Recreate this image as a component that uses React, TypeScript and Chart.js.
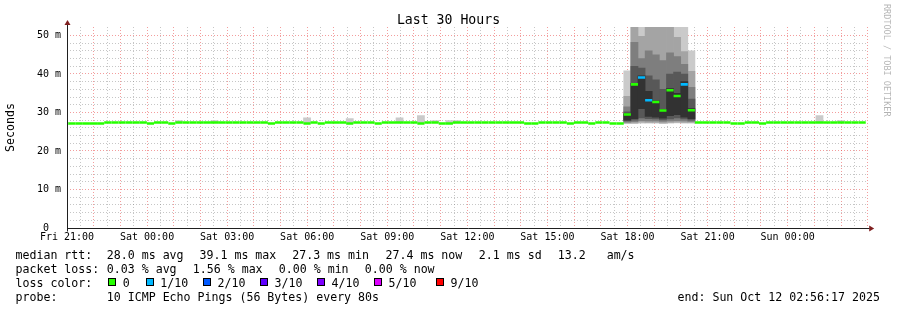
import React, { useEffect, useRef } from 'react';
import { Chart, registerables } from 'chart.js';

Chart.register(...registerables);

// ---------- data ----------
const COLUMN_HOURS = 16 / 60; // one consolidated column = 16 minutes
const FIRST_COLUMN_CENTER = -0.073; // hours after Fri 21:00

const xTickLabels = [
  'Fri 21:00', 'Sat 00:00', 'Sat 03:00', 'Sat 06:00', 'Sat 09:00',
  'Sat 12:00', 'Sat 15:00', 'Sat 18:00', 'Sat 21:00', 'Sun 00:00',
];

// median RTT (ms) per 16-minute column
const medianRtt = [
  27.15, 27.15, 27.15, 27.15, 27.15, 27.15, 27.4, 27.4, 27.4, 27.4,
  27.4, 27.4, 27.15, 27.4, 27.4, 27.15, 27.4, 27.4, 27.4, 27.4,
  27.4, 27.4, 27.4, 27.4, 27.4, 27.4, 27.4, 27.4, 27.4, 27.15,
  27.4, 27.4, 27.4, 27.4, 27.15, 27.4, 27.15, 27.4, 27.4, 27.4,
  27.15, 27.4, 27.4, 27.4, 27.15, 27.4, 27.4, 27.4, 27.4, 27.4,
  27.15, 27.4, 27.4, 27.15, 27.15, 27.4, 27.4, 27.4, 27.4, 27.4,
  27.4, 27.4, 27.4, 27.4, 27.4, 27.15, 27.15, 27.4, 27.4, 27.4,
  27.4, 27.15, 27.4, 27.4, 27.15, 27.4, 27.4, 27.15, 27.15, 29.5,
  37.3, 39.1, 33.2, 32.7, 30.5, 35.8, 34.3, 37.3, 30.6, 27.4,
  27.4, 27.4, 27.4, 27.4, 27.15, 27.15, 27.4, 27.4, 27.15, 27.4,
  27.4, 27.4, 27.4, 27.4, 27.4, 27.4, 27.4, 27.4, 27.4, 27.4,
  27.4, 27.4, 27.4,
];

// packet loss (tenths) for the columns that lost pings
const lossCols = [81, 82, 87];
const lossTenths = [1, 1, 1];

// smoke (ping spread) for the busy period, outer band first
const smokeCols = [79, 80, 81, 82, 83, 84, 85, 86, 87, 88];
const smokeBand1 = [[27.1, 40.8], [27.1, 52.2], [27.2, 52.2], [27.2, 52.2], [27.2, 52.2], [27.1, 52.2], [27.2, 52.2], [27.3, 52.2], [27.2, 52.2], [27.2, 46.0]];
const smokeBand2 = [[27.3, 34.2], [27.3, 52.2], [27.5, 49.8], [27.4, 52.2], [27.4, 52.2], [27.3, 52.2], [27.4, 52.2], [27.5, 49.5], [27.4, 45.8], [27.4, 40.7]];
const smokeBand3 = [[27.5, 31.5], [27.6, 48.2], [27.9, 44.0], [27.8, 46.0], [27.8, 45.0], [27.7, 43.5], [27.8, 45.5], [27.9, 44.5], [27.8, 42.5], [27.7, 36.5]];
const smokeBand4 = [[27.8, 30.2], [28.0, 42.0], [28.6, 41.5], [28.4, 39.5], [28.3, 38.5], [28.1, 36.0], [28.3, 40.0], [28.6, 40.5], [28.3, 40.0], [28.0, 33.5]];
const smokeBand5 = [[28.0, 29.6], [28.4, 37.6], [31.0, 39.5], [29.0, 35.5], [28.8, 33.0], [28.5, 30.8], [29.2, 36.2], [29.4, 35.0], [28.8, 38.0], [28.4, 31.0]];

// small smoke bumps above the median during the quiet periods
const bumpCols = [16, 21, 34, 40, 47, 50, 52, 54, 55, 106, 109];
const bumpTops = [27.9, 27.9, 28.6, 28.4, 28.6, 29.2, 27.9, 27.9, 27.9, 29.2, 27.9];

const lossLegendLabels = ['0', '1/10', '2/10', '3/10', '4/10', '5/10', '9/10'];
const lossLegendColors = ['#26ff00', '#00b8ff', '#0059ff', '#5e00ff', '#7e00ff', '#dd00ff', '#ff0000'];
const smokeColors = ['#cacaca', '#a4a4a4', '#7e7e7e', '#585858', '#323232'];

// ---------- styling ----------
const MONO = '"DejaVu Sans Mono", monospace';
const MAJOR = 'rgba(232,60,60,0.5)';
const MINOR = 'rgba(120,120,120,0.42)';

const colCenter = (k: number) => FIRST_COLUMN_CENTER + k * COLUMN_HOURS;
const lossColor = (t: number) => lossLegendColors[t <= 5 ? t : 6];

const legendRows: { baseline: number; items: [number, string][] }[] = [
  { baseline: 258.5, items: [[16, 'median rtt:'], [107.3, '28.0 ms avg'], [200, '39.1 ms max'], [292.7, '27.3 ms min'], [386, '27.4 ms now'], [479.3, '2.1 ms sd'], [558.3, '13.2   am/s']] },
  { baseline: 272.5, items: [[16, 'packet loss:'], [107.3, '0.03 % avg'], [193.3, '1.56 % max'], [279.3, '0.00 % min'], [365.3, '0.00 % now']] },
  { baseline: 286.5, items: [[16, 'loss color:']] },
  { baseline: 300.5, items: [[16, 'probe:'], [107.3, '10 ICMP Echo Pings (56 Bytes) every 80s'], [678, 'end: Sun Oct 12 02:56:17 2025']] },
];
const swatchLefts = [108.3, 145.7, 203, 260, 317, 374, 436];

const decorPlugin = {
  id: 'rrdDecor',
  afterDraw(chart: any) {
    const { ctx, chartArea } = chart;
    const { left, right, top, bottom } = chartArea;
    ctx.save();
    const ax = Math.round(left) + 0.5;
    const ay = Math.round(bottom) + 0.5;
    ctx.strokeStyle = '#1f1f1f';
    ctx.lineWidth = 1;
    ctx.beginPath();
    ctx.moveTo(ax, ay + 3);
    ctx.lineTo(ax, top - 3);
    ctx.moveTo(ax, ay);
    ctx.lineTo(right + 2, ay);
    ctx.stroke();
    ctx.fillStyle = '#7f1f1f';
    ctx.beginPath();
    ctx.moveTo(ax - 3, top - 2);
    ctx.lineTo(ax + 3, top - 2);
    ctx.lineTo(ax, top - 7);
    ctx.closePath();
    ctx.fill();
    ctx.beginPath();
    ctx.moveTo(right + 1.5, ay - 3);
    ctx.lineTo(right + 1.5, ay + 3);
    ctx.lineTo(right + 6.5, ay);
    ctx.closePath();
    ctx.fill();
    // title
    ctx.fillStyle = '#000';
    ctx.font = `13.2px ${MONO}`;
    ctx.textAlign = 'center';
    ctx.textBaseline = 'alphabetic';
    ctx.fillText('Last 30 Hours', chart.width / 2, 24);
    // watermark
    ctx.translate(884, 4);
    ctx.rotate(Math.PI / 2);
    ctx.fillStyle = 'rgba(0,0,0,0.3)';
    ctx.font = `8.5px ${MONO}`;
    ctx.textAlign = 'left';
    ctx.fillText('RRDTOOL / TOBI OETIKER', 0, 0);
    ctx.restore();
  },
};

export default function App() {
  const canvasRef = useRef<HTMLCanvasElement | null>(null);

  useEffect(() => {
    const canvas = canvasRef.current;
    if (!canvas) return;

    const lossByCol = medianRtt.map((_, k) => {
      const i = lossCols.indexOf(k);
      return i >= 0 ? lossTenths[i] : 0;
    });

    const bands = [smokeBand1, smokeBand2, smokeBand3, smokeBand4, smokeBand5];
    const smokeSets = bands.map((band, b) => ({
      label: `smoke${b + 1}`,
      data: band.map((r, i) => ({ x: colCenter(smokeCols[i]), y: [r[0], r[1]] })),
      backgroundColor: smokeColors[b],
      order: 5 - b,
    }));

    const datasets: any[] = [
      {
        label: 'median',
        data: medianRtt.map((m, k) => ({ x: colCenter(k), y: [m - 0.33, m + 0.33] })),
        backgroundColor: lossByCol.map((t) => lossColor(t)),
        inflateAmount: 0,
        order: 0,
      },
      ...smokeSets,
      {
        label: 'bumps',
        data: bumpCols.map((c, i) => ({ x: colCenter(c), y: [medianRtt[c], bumpTops[i]] })),
        backgroundColor: smokeColors[0],
        order: 6,
      },
    ];

    const chart = new Chart(canvas, {
      type: 'bar',
      data: { datasets },
      options: {
        animation: false,
        responsive: false,
        maintainAspectRatio: false,
        devicePixelRatio: 1,
        events: [],
        layout: { padding: { top: 27, right: 29.3, bottom: 0, left: 0 } },
        plugins: {
          legend: { display: false },
          tooltip: { enabled: false },
          title: { display: false },
        },
        datasets: {
          bar: {
            grouped: false,
            barPercentage: 1,
            categoryPercentage: 1,
            borderWidth: 0,
            borderSkipped: false,
            clip: 0,
          },
        },
        scales: {
          x: {
            type: 'linear',
            min: 0,
            max: 30,
            offset: false,
            z: 1,
            border: { display: false, dash: [1, 2] },
            grid: {
              offset: false,
              drawTicks: false,
              lineWidth: 1,
              color: (c: any) => (c.tick && c.tick.value % 1 === 0 ? MAJOR : MINOR),
            },
            ticks: {
              stepSize: 0.5,
              autoSkip: false,
              maxRotation: 0,
              minRotation: 0,
              padding: 3,
              color: '#000',
              font: { family: MONO, size: 10 },
              callback: (v: any) => {
                const n = Number(v);
                const idx = n / 3;
                return Number.isInteger(idx) && idx < xTickLabels.length ? xTickLabels[idx] : '';
              },
            },
            afterFit: (s: any) => {
              s.height = 82;
            },
          },
          y: {
            type: 'linear',
            min: 0,
            max: 52.2,
            z: 1,
            border: { display: false, dash: [1, 2] },
            grid: {
              drawTicks: false,
              lineWidth: 1,
              color: (c: any) => {
                const v = c.tick ? c.tick.value : 0;
                if (v % 10 === 0) return MAJOR;
                if (v % 2 === 0) return MINOR;
                return 'rgba(0,0,0,0)';
              },
            },
            ticks: {
              stepSize: 2,
              autoSkip: false,
              padding: 6,
              color: '#000',
              font: { family: MONO, size: 10 },
              callback: (v: any) => {
                const n = Number(v);
                if (n === 0) return '0  ';
                return n % 10 === 0 ? `${n} m` : '';
              },
            },
            title: {
              display: true,
              text: 'Seconds',
              color: '#000',
              font: { family: MONO, size: 11.6 },
              padding: { top: 4, bottom: 0 },
            },
            afterFit: (s: any) => {
              s.width = 67;
            },
          },
        },
      } as any,
      plugins: [decorPlugin],
    });

    return () => chart.destroy();
  }, []);

  const textStyle = (left: number, baseline: number): React.CSSProperties => ({
    position: 'absolute',
    left: left - 0.5,
    top: baseline - 11,
    fontFamily: MONO,
    fontSize: '11.6px',
    lineHeight: '14px',
    whiteSpace: 'pre',
    color: '#000',
  });

  return (
    <div
      style={{
        position: 'fixed',
        left: 0,
        top: 0,
        width: 897,
        height: 310,
        background: '#fff',
        overflow: 'hidden',
      }}
    >
      <canvas
        ref={canvasRef}
        width={897}
        height={310}
        style={{ position: 'absolute', left: 0, top: 0, width: 897, height: 310 }}
      />
      {legendRows.map((row, r) =>
        row.items.map(([x, t], i) => (
          <span key={`${r}-${i}`} style={textStyle(x, row.baseline)}>
            {t}
          </span>
        ))
      )}
      {lossLegendLabels.map((lab, i) => (
        <React.Fragment key={`loss-${i}`}>
          <div
            style={{
              position: 'absolute',
              left: swatchLefts[i],
              top: 278,
              width: 8,
              height: 8,
              boxSizing: 'border-box',
              border: '1px solid #000',
              background: lossLegendColors[i],
            }}
          />
          <span style={textStyle(swatchLefts[i] + 15, 286.5)}>{lab}</span>
        </React.Fragment>
      ))}
    </div>
  );
}
